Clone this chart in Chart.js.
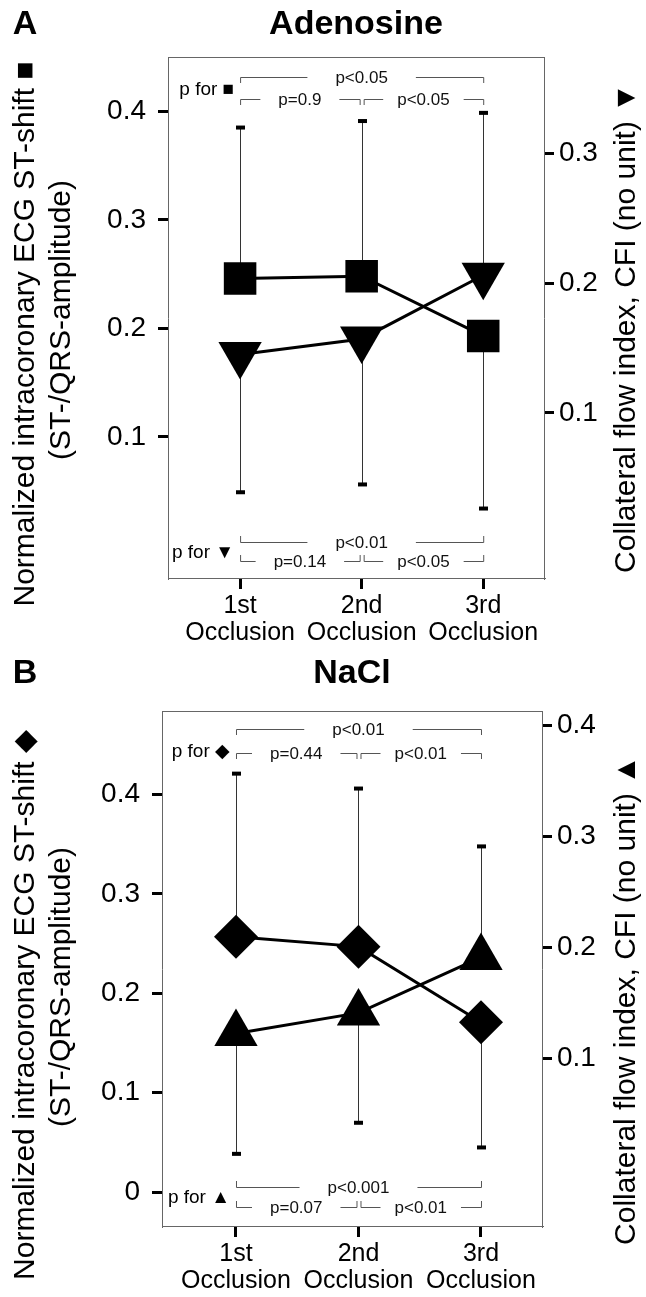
<!DOCTYPE html>
<html>
<head>
<meta charset="utf-8">
<script src="https://cdn.jsdelivr.net/npm/chart.js@4.4.1/dist/chart.umd.min.js"></script>
<style>
  body { margin: 0; background: #fff; }
  .panel { position: absolute; left: 0; }
</style>
</head>
<body>
<div class="panel" style="top:0"><canvas id="chartA" width="646" height="652"></canvas></div>
<div class="panel" style="top:652px"><canvas id="chartB" width="646" height="645"></canvas></div>
<script>
// occlusions on the x axis
var occasions = [1, 2, 3];
var occasionLabels = [['1st', 'Occlusion'], ['2nd', 'Occlusion'], ['3rd', 'Occlusion']];

// A - Adenosine
var adenoST = [0.246, 0.248, 0.193];       // squares, left axis
var adenoSTwhisker = [0.385, 0.391, 0.034];
var adenoCFI = [0.145, 0.157, 0.206];      // down triangles, right axis
var adenoCFIwhisker = [0.039, 0.045, 0.331];
var adenoLeftTicks = [0.1, 0.2, 0.3, 0.4];
var adenoRightTicks = [0.1, 0.2, 0.3];
var adenoPST = ['p<0.05', 'p=0.9', 'p<0.05'];    // 1st-3rd, 1st-2nd, 2nd-3rd
var adenoPCFI = ['p<0.01', 'p=0.14', 'p<0.05'];

// B - NaCl
var naclST = [0.257, 0.247, 0.171];        // diamonds, left axis
var naclSTwhisker = [0.421, 0.406, 0.045];
var naclCFI = [0.1225, 0.141, 0.191];      // up triangles, right axis
var naclCFIwhisker = [0.014, 0.042, 0.291];
var naclLeftTicks = [0, 0.1, 0.2, 0.3, 0.4];
var naclRightTicks = [0.1, 0.2, 0.3, 0.4];
var naclPST = ['p<0.01', 'p=0.44', 'p<0.01'];
var naclPCFI = ['p<0.001', 'p=0.07', 'p<0.01'];

var FONT = '"Liberation Sans", Arial, Helvetica, sans-serif';

function vText(ctx, text, x, y, font) {
  ctx.save();
  ctx.translate(x, y);
  ctx.rotate(-Math.PI / 2);
  ctx.font = font;
  ctx.textAlign = 'center';
  ctx.textBaseline = 'middle';
  ctx.fillText(text, 0, 0);
  ctx.restore();
}

function bracket(ctx, xa, xb, y, text, dir, pad) {
  var mid = (xa + xb) / 2;
  ctx.font = '17px ' + FONT;
  var w = ctx.measureText(text).width;
  ctx.fillStyle = '#111';
  ctx.textAlign = 'center';
  ctx.textBaseline = 'middle';
  ctx.fillText(text, mid, y + 1);
  ctx.strokeStyle = '#555';
  ctx.lineWidth = 1;
  ctx.beginPath();
  ctx.moveTo(xa + 0.5, y + dir * 6);
  ctx.lineTo(xa + 0.5, y + 0.5);
  ctx.lineTo(mid - w / 2 - pad, y + 0.5);
  ctx.moveTo(mid + w / 2 + pad, y + 0.5);
  ctx.lineTo(xb + 0.5, y + 0.5);
  ctx.lineTo(xb + 0.5, y + dir * 6);
  ctx.stroke();
}

// whiskers behind the markers, and all the labels around the box
var decor = {
  id: 'decor',
  beforeDatasetsDraw: function(chart) {
    var ctx = chart.ctx;
    ctx.save();
    chart.data.datasets.forEach(function(ds, i) {
      var meta = chart.getDatasetMeta(i);
      var ys = chart.scales[ds.yAxisID];
      meta.data.forEach(function(pt, j) {
        var yEnd = ys.getPixelForValue(ds.whisker[j]);
        var x = Math.round(pt.x) + 0.5;
        ctx.strokeStyle = '#333';
        ctx.lineWidth = 1;
        ctx.beginPath();
        ctx.moveTo(x, pt.y);
        ctx.lineTo(x, yEnd);
        ctx.stroke();
        ctx.fillStyle = '#000';
        ctx.fillRect(x - 4.5, yEnd - 2, 9, 4);
      });
    });
    ctx.restore();
  },
  afterDraw: function(chart, args, o) {
    var ctx = chart.ctx;
    var a = chart.chartArea;
    var xs = chart.scales.x;
    var x1 = xs.getPixelForValue(occasions[0]);
    var x2 = xs.getPixelForValue(occasions[1]);
    var x3 = xs.getPixelForValue(occasions[2]);
    ctx.save();
    // top edge of the box
    ctx.strokeStyle = '#666';
    ctx.lineWidth = 1;
    ctx.beginPath();
    ctx.moveTo(a.left, a.top + 0.5);
    ctx.lineTo(a.right, a.top + 0.5);
    ctx.stroke();

    ctx.fillStyle = '#000';
    ctx.textAlign = 'center';
    ctx.textBaseline = 'middle';
    ctx.font = 'bold 34px ' + FONT;
    ctx.fillText(o.letter, 25, o.titleY);
    ctx.fillText(o.title, (a.left + a.right) / 2, o.titleY);

    var tf = '30px ' + FONT;
    vText(ctx, o.leftTitle[0], 26, o.leftY[0], tf);
    vText(ctx, o.leftTitle[1], 62, o.leftY[1], tf);
    vText(ctx, o.rightTitle, 627, o.rightY, tf);

    // p values
    bracket(ctx, x1, x3, a.top + o.topRows[0], o.pST[0], 1, 28);
    bracket(ctx, x1, x2 - 2, a.top + o.topRows[1], o.pST[1], 1, 18);
    bracket(ctx, x2 + 2, x3, a.top + o.topRows[1], o.pST[2], 1, 14);
    bracket(ctx, x1, x3, a.bottom - o.botRows[0], o.pCFI[0], -1, 28);
    bracket(ctx, x1, x2 - 2, a.bottom - o.botRows[1], o.pCFI[1], -1, 18);
    bracket(ctx, x2 + 2, x3, a.bottom - o.botRows[1], o.pCFI[2], -1, 14);

    ctx.fillStyle = '#000';
    ctx.font = '19px ' + FONT;
    ctx.textAlign = 'right';
    ctx.textBaseline = 'middle';
    ctx.fillText('p for ' + o.stMark, x1 - 6, a.top + o.pForTop);
    ctx.fillText('p for ' + o.cfiMark, x1 - 6, a.bottom - o.pForBot);
    ctx.restore();
  }
};

function makeChart(id, d) {
  var canvas = document.getElementById(id);
  var W = canvas.width, H = canvas.height;
  var pts = function(vals) {
    return occasions.map(function(x, i) { return { x: x, y: vals[i] }; });
  };
  var tickFont = { family: FONT, size: 28 };
  var yScale = function(pos, min, max, list, width, pad) {
    return {
      type: 'linear',
      position: pos,
      min: min,
      max: max,
      afterBuildTicks: function(axis) {
        axis.ticks = list.map(function(v) { return { value: v }; });
      },
      afterFit: function(axis) { axis.width = width; },
      ticks: {
        color: '#000', font: tickFont, padding: pad,
        callback: function(v) { return String(v); }
      },
      grid: { drawOnChartArea: false, tickLength: 10, lineWidth: 3, color: '#000' },
      border: { color: '#666', width: 1 }
    };
  };
  return new Chart(canvas.getContext('2d'), {
    type: 'line',
    data: {
      datasets: [{
        label: 'ST-shift',
        data: pts(d.st),
        whisker: d.stWhisker,
        yAxisID: 'y',
        borderColor: '#000',
        borderWidth: 3,
        pointStyle: d.stShape,
        pointRadius: d.stRadius,
        pointBackgroundColor: '#000',
        pointBorderWidth: 0
      }, {
        label: 'CFI',
        data: pts(d.cfi),
        whisker: d.cfiWhisker,
        yAxisID: 'y1',
        borderColor: '#000',
        borderWidth: 3,
        pointStyle: 'triangle',
        pointRotation: d.cfiRotation,
        pointRadius: 25,
        pointBackgroundColor: '#000',
        pointBorderWidth: 0
      }]
    },
    options: {
      responsive: false,
      animation: false,
      events: [],
      layout: { padding: { top: d.box.top, left: 0, right: 0, bottom: 0 } },
      plugins: {
        legend: { display: false },
        tooltip: { enabled: false },
        decor: d.decor
      },
      scales: {
        x: {
          type: 'linear',
          position: 'bottom',
          min: d.xRange[0],
          max: d.xRange[1],
          afterBuildTicks: function(axis) {
            axis.ticks = occasions.map(function(v) { return { value: v }; });
          },
          afterFit: function(axis) { axis.height = H - d.box.bottom; },
          ticks: {
            color: '#000',
            font: { family: FONT, size: 25, lineHeight: 1.1 },
            padding: 3,
            maxRotation: 0,
            autoSkip: false,
            callback: function(v) { return occasionLabels[occasions.indexOf(v)]; }
          },
          grid: { drawOnChartArea: false, tickLength: 11, lineWidth: 3, color: '#000' },
          border: { color: '#666', width: 1 }
        },
        y: yScale('left', d.leftRange[0], d.leftRange[1], d.leftTicks, d.box.left, 12),
        y1: yScale('right', d.rightRange[0], d.rightRange[1], d.rightTicks, W - d.box.right, 5)
      }
    },
    plugins: [decor]
  });
}

makeChart('chartA', {
  st: adenoST, stWhisker: adenoSTwhisker, stShape: 'rect', stRadius: 23,
  cfi: adenoCFI, cfiWhisker: adenoCFIwhisker, cfiRotation: 180,
  leftTicks: adenoLeftTicks, rightTicks: adenoRightTicks,
  leftRange: [-0.030, 0.450], rightRange: [-0.027, 0.374], xRange: [0.407, 3.50],
  box: { left: 168, right: 544, top: 57, bottom: 578 },
  decor: {
    letter: 'A', title: 'Adenosine', titleY: 25,
    leftTitle: ['Normalized intracoronary ECG ST-shift \u25A0', '(ST-/QRS-amplitude)'],
    leftY: [334, 320],
    rightTitle: 'Collateral flow index, CFI (no unit) \u25BC', rightY: 328,
    pST: adenoPST, pCFI: adenoPCFI, stMark: '\u25A0', cfiMark: '\u25BC',
    topRows: [20, 42], botRows: [36, 17], pForTop: 33, pForBot: 25
  }
});

makeChart('chartB', {
  st: naclST, stWhisker: naclSTwhisker, stShape: 'rectRot', stRadius: 22,
  cfi: naclCFI, cfiWhisker: naclCFIwhisker, cfiRotation: 0,
  leftTicks: naclLeftTicks, rightTicks: naclRightTicks,
  leftRange: [-0.034, 0.484], rightRange: [-0.051, 0.413], xRange: [0.396, 3.498],
  box: { left: 162, right: 542, top: 59, bottom: 574 },
  decor: {
    letter: 'B', title: 'NaCl', titleY: 22,
    leftTitle: ['Normalized intracoronary ECG ST-shift \u25C6', '(ST-/QRS-amplitude)'],
    leftY: [353, 335],
    rightTitle: 'Collateral flow index, CFI (no unit) \u25B2', rightY: 348,
    pST: naclPST, pCFI: naclPCFI, stMark: '\u25C6', cfiMark: '\u25B2',
    topRows: [18, 42], botRows: [39, 19], pForTop: 41, pForBot: 28
  }
});
</script>
</body>
</html>
